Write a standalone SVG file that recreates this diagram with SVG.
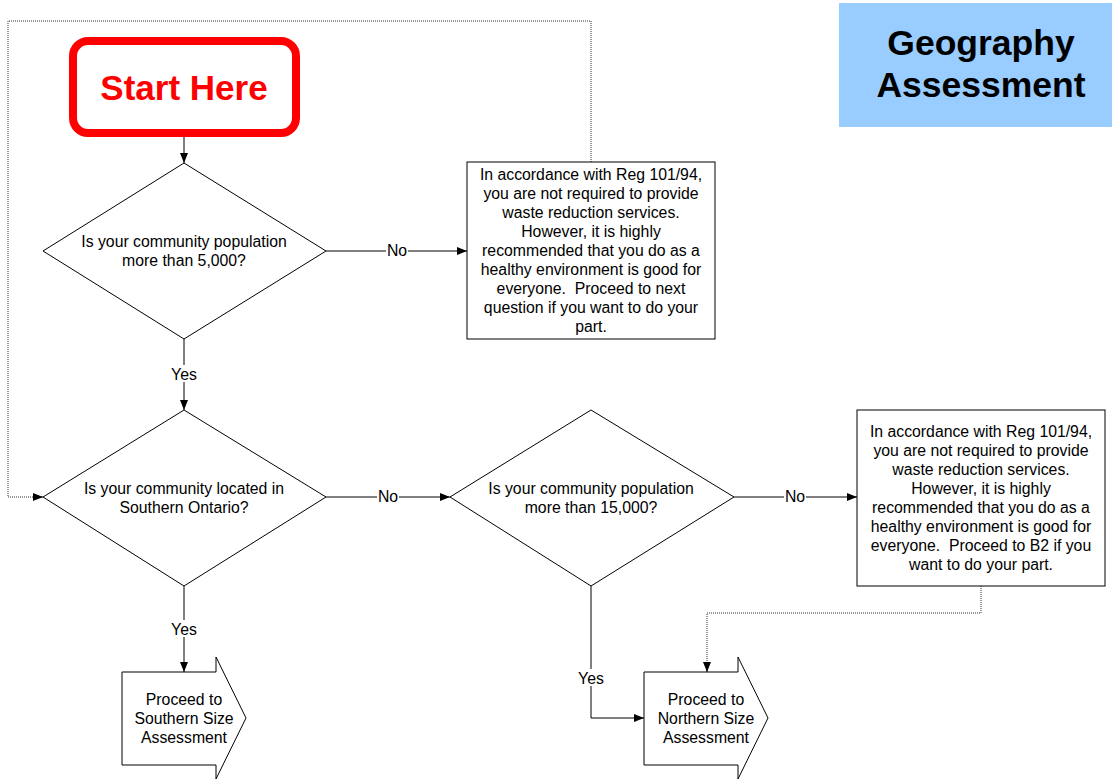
<svg xmlns="http://www.w3.org/2000/svg" width="1112" height="782" viewBox="0 0 1112 782">
<defs>
<marker id="ah" viewBox="0 0 10 10" refX="10" refY="5" markerWidth="10" markerHeight="10" markerUnits="userSpaceOnUse" orient="auto">
<path d="M0,1 L10,5 L0,9 Z" fill="#000"/>
</marker>
<style>
.shape{fill:#fff;stroke:#000;stroke-width:1}
.t{font-family:"Liberation Sans",Arial,sans-serif;font-size:15.8px;fill:#000;text-anchor:middle;white-space:pre}
.ln{fill:none;stroke:#000;stroke-width:1}
.dot{fill:none;stroke:#333;stroke-width:1;stroke-dasharray:1,1}
.lbg{fill:#fff}
</style>
</defs>
<rect width="1112" height="782" fill="#fff"/>

<g id="connectors">
<path class="dot" d="M591,162 V21 H8 V497 H33" />
<path class="ln" d="M33,497 H43" marker-end="url(#ah)"/>
<path class="ln" d="M184,133 V163" marker-end="url(#ah)"/>
<path class="ln" d="M326,251 H467" marker-end="url(#ah)"/>
<rect class="lbg" x="386" y="242" width="22" height="17"/>
<text class="t" x="397" y="256">No</text>
<path class="ln" d="M184,339 V410" marker-end="url(#ah)"/>
<rect class="lbg" x="168" y="365" width="32" height="17"/>
<text class="t" x="184" y="380">Yes</text>
<path class="ln" d="M326,497 H450" marker-end="url(#ah)"/>
<rect class="lbg" x="377" y="488" width="22" height="17"/>
<text class="t" x="388" y="502">No</text>
<path class="ln" d="M734,497 H857" marker-end="url(#ah)"/>
<rect class="lbg" x="784" y="488" width="22" height="17"/>
<text class="t" x="795" y="502">No</text>
<path class="ln" d="M184,586 V672" marker-end="url(#ah)"/>
<rect class="lbg" x="168" y="620" width="32" height="17"/>
<text class="t" x="184" y="635">Yes</text>
<path class="ln" d="M591,586 V718 H644" marker-end="url(#ah)"/>
<rect class="lbg" x="575" y="669" width="32" height="17"/>
<text class="t" x="591" y="684">Yes</text>
<path class="dot" d="M981,586 V613 H707 V662"/>
<path class="ln" d="M707,662 V672" marker-end="url(#ah)"/>
</g>

<g id="title">
<rect x="839" y="3" width="273" height="124" fill="#99ccff"/>
<text x="981" y="55" font-family="'Liberation Sans',Arial,sans-serif" font-size="35.5" font-weight="bold" text-anchor="middle">Geography</text>
<text x="981" y="97" font-family="'Liberation Sans',Arial,sans-serif" font-size="35.5" font-weight="bold" text-anchor="middle">Assessment</text>
</g>

<g id="start">
<rect x="73" y="41" width="223" height="92" rx="15" ry="15" fill="#fff" stroke="#ff0000" stroke-width="8"/>
<text x="184" y="100" font-family="'Liberation Sans',Arial,sans-serif" font-size="35" font-weight="bold" fill="#ff0000" text-anchor="middle">Start Here</text>
</g>

<g id="q1">
<polygon class="shape" points="184,163 326,251 184,339 43,251"/>
<text class="t" x="184" y="247">Is your community population</text>
<text class="t" x="184" y="266">more than 5,000?</text>
</g>

<g id="note1">
<rect class="shape" x="467" y="162" width="248" height="177"/>
<text class="t" x="591" y="180">In accordance with Reg 101/94,</text>
<text class="t" x="591" y="199">you are not required to provide</text>
<text class="t" x="591" y="218">waste reduction services.</text>
<text class="t" x="591" y="237">However, it is highly</text>
<text class="t" x="591" y="256">recommended that you do as a</text>
<text class="t" x="591" y="275">healthy environment is good for</text>
<text class="t" x="591" y="294" xml:space="preserve">everyone.  Proceed to next</text>
<text class="t" x="591" y="313">question if you want to do your</text>
<text class="t" x="591" y="332">part.</text>
</g>

<g id="q2">
<polygon class="shape" points="184,410 326,497 184,586 43,497"/>
<text class="t" x="184" y="494">Is your community located in</text>
<text class="t" x="184" y="513">Southern Ontario?</text>
</g>

<g id="q3">
<polygon class="shape" points="591,410 734,497 591,586 450,497"/>
<text class="t" x="591" y="494">Is your community population</text>
<text class="t" x="591" y="513">more than 15,000?</text>
</g>

<g id="note2">
<rect class="shape" x="857" y="410" width="248" height="176"/>
<text class="t" x="981" y="437">In accordance with Reg 101/94,</text>
<text class="t" x="981" y="456">you are not required to provide</text>
<text class="t" x="981" y="475">waste reduction services.</text>
<text class="t" x="981" y="494">However, it is highly</text>
<text class="t" x="981" y="513">recommended that you do as a</text>
<text class="t" x="981" y="532">healthy environment is good for</text>
<text class="t" x="981" y="551" xml:space="preserve">everyone.  Proceed to B2 if you</text>
<text class="t" x="981" y="570">want to do your part.</text>
</g>

<g id="southern">
<polygon class="shape" points="122,672 216,672 216,657 246,718 216,779 216,765 122,765"/>
<text class="t" x="184" y="705">Proceed to</text>
<text class="t" x="184" y="724">Southern Size</text>
<text class="t" x="184" y="743">Assessment</text>
</g>

<g id="northern">
<polygon class="shape" points="644,672 738,672 738,657 768,718 738,779 738,765 644,765"/>
<text class="t" x="706" y="705">Proceed to</text>
<text class="t" x="706" y="724">Northern Size</text>
<text class="t" x="706" y="743">Assessment</text>
</g>
</svg>
